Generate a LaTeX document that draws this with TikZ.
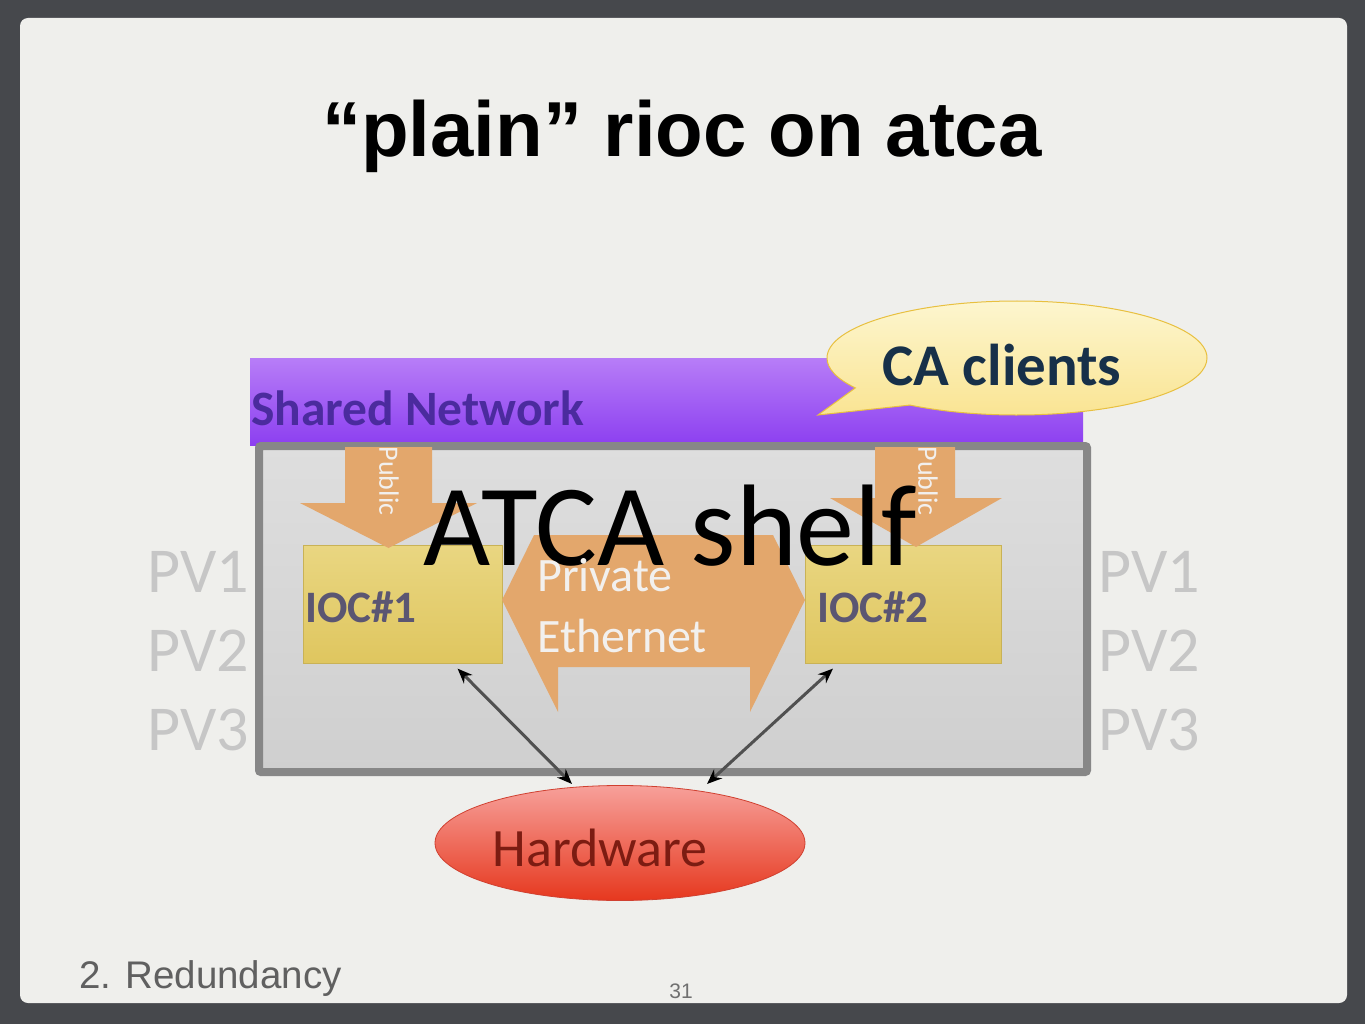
\documentclass[tikz,border=0pt]{standalone}
\usepackage{fontspec}
\setmainfont{Carlito}
\newfontfamily\helv{Liberation Sans}
\usetikzlibrary{shapes.geometric,shapes.callouts,arrows.meta}
\newcommand{\myfs}[1]{\fontsize{#1}{#1}\selectfont}
\definecolor{bgdark}{HTML}{46484C}
\definecolor{slidebg}{HTML}{EFEFEC}
\definecolor{pvgray}{HTML}{C6C6C6}
\definecolor{purpletop}{HTML}{B77DF7}
\definecolor{purplebot}{HTML}{8C3FF0}
\definecolor{purpletext}{HTML}{4B2B9E}
\definecolor{boxborder}{HTML}{878787}
\definecolor{boxtop}{HTML}{DEDEDE}
\definecolor{boxbot}{HTML}{CFCFCF}
\definecolor{ioctop}{HTML}{E9D681}
\definecolor{iocbot}{HTML}{DFC65F}
\definecolor{ioctext}{HTML}{5B5672}
\definecolor{netorange}{HTML}{E3A76C}
\definecolor{paletext}{HTML}{F2F0EE}
\definecolor{hwtop}{HTML}{F7A09A}
\definecolor{hwbot}{HTML}{E6381E}
\definecolor{hwborder}{HTML}{D04030}
\definecolor{hwtext}{HTML}{7C1C12}
\definecolor{catop}{HTML}{FDF6CF}
\definecolor{cabot}{HTML}{F9E38F}
\definecolor{caborder}{HTML}{E8C040}
\definecolor{catext}{HTML}{173049}
\definecolor{conncol}{HTML}{505050}
\definecolor{footgray}{HTML}{606060}
\begin{document}
\begin{tikzpicture}[x=1pt,y=-1pt,
  txt/.style={inner sep=0pt, anchor=base},
  pvtext/.style={txt, anchor=base west, text=pvgray, font=\myfs{64}},
  iocbox/.style={anchor=north west, inner sep=0pt, minimum width=199pt, minimum height=118pt,
    top color=ioctop, bottom color=iocbot, draw=iocbot!90!black, line width=0.6pt},
  ioclabel/.style={txt, anchor=base west, text=ioctext, font=\bfseries\myfs{45}},
  publabel/.style={inner sep=0pt, rotate=-90, text=paletext, font=\myfs{28}},
  privlabel/.style={txt, anchor=base west, text=paletext, font=\myfs{48}},
  conn/.style={draw=conncol, line width=3pt,
    {Stealth[length=15pt,width=12pt,color=black]}-{Stealth[length=15pt,width=12pt,color=black]}}
]
\useasboundingbox (0,0) rectangle (1365,1024);
\fill[bgdark] (0,0) rectangle (1365,1024);
\fill[slidebg, rounded corners=8pt] (20,18) rectangle (1347,1003);

% title
\node[txt, font=\helv\bfseries\myfs{78}] (title) at (682,157) {“plain” rioc on atca};

% PV lists
\node[pvtext] (pvl1) at (147,592) {PV1};
\node[pvtext] (pvl2) at (147,671) {PV2};
\node[pvtext] (pvl3) at (147,750) {PV3};
\node[pvtext] (pvr1) at (1098,592) {PV1};
\node[pvtext] (pvr2) at (1098,671) {PV2};
\node[pvtext] (pvr3) at (1098,750) {PV3};

% shared network bar
\node[anchor=north west, inner sep=0pt, minimum width=833pt, minimum height=87pt,
  top color=purpletop, bottom color=purplebot] (net) at (250,358) {};
\node[txt, anchor=base west, text=purpletext, font=\bfseries\myfs{49.5}] (netlabel) at (251,425) {Shared Network};

% ATCA shelf box
\node[anchor=north west, inner sep=0pt, minimum width=828pt, minimum height=326pt,
  draw=boxborder, line width=8pt, rounded corners=2pt, top color=boxtop, bottom color=boxbot] (shelf) at (255,442) {};

% IOC boxes
\node[iocbox] (ioc1) at (303,545) {};
\node[iocbox, minimum width=196pt] (ioc2) at (805,545) {};

% public arrows
\fill[netorange] (345,447) -- (432,447) -- (432,503) -- (477,503) -- (388.5,548)
  -- (300,503) -- (345,503) -- cycle;
\fill[netorange] (875,447) -- (955,447) -- (955,498) -- (1002,498) -- (916,547)
  -- (830,498) -- (875,498) -- cycle;
\node[publabel] (pub1) at (389,481) {Public};
\node[publabel] (pub2) at (928,481) {Public};

% private ethernet shape
\fill[netorange] (502,600) -- (534,535) -- (773,535) -- (805,600) -- (750,712)
  -- (750,667) -- (558,667) -- (558,712) -- cycle;

\node[ioclabel] (ioc1label) at (305,622) {IOC\#1};
\node[ioclabel] (ioc2label) at (817,622) {IOC\#2};

% ATCA shelf title
\node[txt, font=\myfs{116}] (shelflabel) at (670,565) {ATCA shelf};

\node[privlabel] (priv1) at (537,591) {Private};
\node[privlabel] (priv2) at (537,652) {Ethernet};

% hardware
\node[ellipse, inner sep=0pt, minimum width=370pt, minimum height=115pt,
  top color=hwtop, bottom color=hwbot, draw=hwborder, line width=0.8pt] (hw) at (620,843) {};
\node[txt, text=hwtext, font=\myfs{54}] (hwlabel) at (600,866) {Hardware};

% connectors
\coordinate (hwa) at (572,784);
\coordinate (hwb) at (707,784);
\draw[conn] ([xshift=-45pt,yshift=-5pt]ioc1.south east) -- (hwa);
\draw[conn] ([xshift=28pt,yshift=-5pt]ioc2.south west) -- (hwb);

% CA clients callout
\node[ellipse callout, callout absolute pointer={(818,415)}, callout pointer arc=24,
  inner sep=0pt, minimum width=380pt, minimum height=114pt,
  top color=catop, bottom color=cabot, draw=caborder, line width=1pt] (ca) at (1017,358) {};
\node[txt, text=catext, font=\bfseries\myfs{59}] (calabel) at (1002,385) {CA clients};

% footer
\node[txt, anchor=base west, text=footgray, font=\helv\myfs{38.5}] (foot) at (79,988) {2. Redundancy};
\node[txt, text=footgray!90, font=\helv\myfs{21}] (pagenum) at (681,998) {31};
\end{tikzpicture}
\end{document}
